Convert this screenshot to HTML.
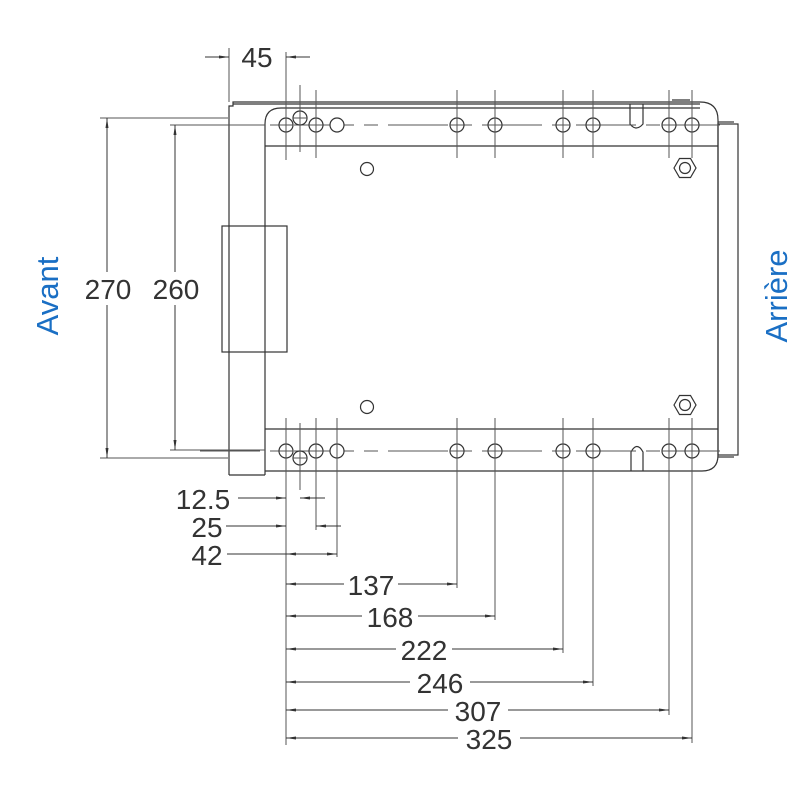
<!DOCTYPE html>
<html><head><meta charset="utf-8"><style>html,body{margin:0;padding:0;background:#fff}svg{display:block}</style></head>
<body>
<svg width="800" height="800" viewBox="0 0 800 800" xmlns="http://www.w3.org/2000/svg">
<defs>
<marker id="a" markerWidth="10" markerHeight="6" refX="10" refY="3" orient="auto" markerUnits="userSpaceOnUse"><path d="M0,1.5 L10,3 L0,4.5z" fill="#333"/></marker>
<marker id="b" markerWidth="10" markerHeight="6" refX="0" refY="3" orient="auto" markerUnits="userSpaceOnUse"><path d="M10,1.5 L0,3 L10,4.5z" fill="#333"/></marker>
</defs>
<g fill="none" stroke="#333" stroke-width="1.2">
<path d="M229,475 V106 H233 V102 H700 Q718,102 718,120 V455 Q718,471 702,471 H265"/>
<path d="M229,475 H265"/>
<path d="M233,104 H700"/>
<path d="M265,475 V124 Q265,108 281,108 H700"/>
<line x1="265" y1="146" x2="718" y2="146"/>
<line x1="265" y1="429" x2="718" y2="429"/>
<rect x="222" y="226" width="65" height="126"/>
<rect x="718" y="124" width="20" height="331"/>
<line x1="718" y1="122" x2="734" y2="122"/>
<line x1="718" y1="457" x2="734" y2="457"/>
<path d="M630,104 V124 Q636,132 643,124 V104"/>
<path d="M631,471 V452 Q637,441 643,452 V471"/>
<line x1="672" y1="100" x2="690" y2="100"/>
<polygon points="674,168 679.5,158.5 690.5,158.5 696,168 690.5,177.5 679.5,177.5"/>
<circle cx="685" cy="168" r="5.5"/>
<polygon points="674,405 679.5,395.5 690.5,395.5 696,405 690.5,414.5 679.5,414.5"/>
<circle cx="685" cy="405" r="5.5"/>
<circle cx="367" cy="169" r="6.5"/>
<circle cx="367" cy="407" r="6.5"/>
</g>
<g stroke="#555" stroke-width="1" fill="none">
<line x1="200" y1="125" x2="720" y2="125" stroke-dasharray="60,10,14,10"/>
<line x1="200" y1="451" x2="720" y2="451" stroke-dasharray="60,10,14,10"/>
<line x1="100" y1="118" x2="228" y2="118"/>
<line x1="100" y1="458" x2="228" y2="458"/>
<line x1="170" y1="125" x2="265" y2="125"/>
<line x1="170" y1="450" x2="265" y2="450"/>
</g>
<g fill="#fff" stroke="#333" stroke-width="1.2">
<circle cx="286" cy="125" r="7"/><circle cx="300" cy="118" r="7"/><circle cx="316" cy="125" r="7"/><circle cx="337" cy="125" r="7"/>
<circle cx="457" cy="125" r="7"/><circle cx="495" cy="125" r="7"/><circle cx="563" cy="125" r="7"/><circle cx="593" cy="125" r="7"/><circle cx="669" cy="125" r="7"/><circle cx="692" cy="125" r="7"/>
<circle cx="286" cy="451" r="7"/><circle cx="300" cy="458" r="7"/><circle cx="316" cy="451" r="7"/><circle cx="337" cy="451" r="7"/>
<circle cx="457" cy="451" r="7"/><circle cx="495" cy="451" r="7"/><circle cx="563" cy="451" r="7"/><circle cx="593" cy="451" r="7"/><circle cx="669" cy="451" r="7"/><circle cx="692" cy="451" r="7"/>
</g>
<g stroke="#555" stroke-width="1">
<line x1="279" y1="125" x2="293" y2="125"/><line x1="293" y1="118" x2="307" y2="118"/><line x1="309" y1="125" x2="323" y2="125"/>
<line x1="279" y1="451" x2="293" y2="451"/><line x1="293" y1="458" x2="307" y2="458"/><line x1="309" y1="451" x2="323" y2="451"/>
<line x1="450" y1="125" x2="464" y2="125"/><line x1="488" y1="125" x2="502" y2="125"/><line x1="556" y1="125" x2="570" y2="125"/><line x1="586" y1="125" x2="600" y2="125"/><line x1="662" y1="125" x2="676" y2="125"/><line x1="685" y1="125" x2="699" y2="125"/>
<line x1="450" y1="451" x2="464" y2="451"/><line x1="488" y1="451" x2="502" y2="451"/><line x1="556" y1="451" x2="570" y2="451"/><line x1="586" y1="451" x2="600" y2="451"/><line x1="662" y1="451" x2="676" y2="451"/><line x1="685" y1="451" x2="699" y2="451"/>
<line x1="286" y1="52" x2="286" y2="160"/>
<line x1="300" y1="85" x2="300" y2="152"/>
<line x1="316" y1="90" x2="316" y2="158"/>
<line x1="457" y1="90" x2="457" y2="158"/><line x1="495" y1="90" x2="495" y2="158"/>
<line x1="563" y1="90" x2="563" y2="158"/><line x1="593" y1="90" x2="593" y2="158"/>
<line x1="669" y1="90" x2="669" y2="158"/><line x1="692" y1="90" x2="692" y2="158"/>
<line x1="229" y1="48" x2="229" y2="102"/>
<line x1="286" y1="418" x2="286" y2="745"/>
<line x1="300" y1="423" x2="300" y2="490"/>
<line x1="316" y1="418" x2="316" y2="530"/>
<line x1="337" y1="418" x2="337" y2="557"/>
<line x1="457" y1="418" x2="457" y2="588"/>
<line x1="495" y1="418" x2="495" y2="620"/>
<line x1="563" y1="418" x2="563" y2="653"/>
<line x1="593" y1="418" x2="593" y2="686"/>
<line x1="669" y1="418" x2="669" y2="715"/>
<line x1="692" y1="418" x2="692" y2="743"/>
</g>
<g stroke="#333" stroke-width="1" fill="none">
<line x1="205" y1="57" x2="229" y2="57" marker-end="url(#a)"/>
<line x1="310" y1="57" x2="286" y2="57" marker-end="url(#a)"/>
<line x1="107" y1="272" x2="107" y2="118" marker-end="url(#a)"/>
<line x1="107" y1="305" x2="107" y2="458" marker-end="url(#a)"/>
<line x1="175" y1="272" x2="175" y2="125" marker-end="url(#a)"/>
<line x1="175" y1="305" x2="175" y2="450" marker-end="url(#a)"/>
<line x1="238" y1="498" x2="286" y2="498" marker-end="url(#a)"/>
<line x1="325" y1="498" x2="300" y2="498" marker-end="url(#a)"/>
<line x1="226" y1="526" x2="286" y2="526" marker-end="url(#a)"/>
<line x1="341" y1="526" x2="316" y2="526" marker-end="url(#a)"/>
<line x1="227" y1="554" x2="286" y2="554"/>
<line x1="286" y1="554" x2="337" y2="554" marker-start="url(#b)" marker-end="url(#a)"/>
<line x1="286" y1="584" x2="344" y2="584" marker-start="url(#b)"/><line x1="398" y1="584" x2="457" y2="584" marker-end="url(#a)"/>
<line x1="286" y1="616" x2="362" y2="616" marker-start="url(#b)"/><line x1="418" y1="616" x2="495" y2="616" marker-end="url(#a)"/>
<line x1="286" y1="649" x2="396" y2="649" marker-start="url(#b)"/><line x1="452" y1="649" x2="563" y2="649" marker-end="url(#a)"/>
<line x1="286" y1="682" x2="410" y2="682" marker-start="url(#b)"/><line x1="470" y1="682" x2="593" y2="682" marker-end="url(#a)"/>
<line x1="286" y1="710" x2="448" y2="710" marker-start="url(#b)"/><line x1="508" y1="710" x2="669" y2="710" marker-end="url(#a)"/>
<line x1="286" y1="738" x2="458" y2="738" marker-start="url(#b)"/><line x1="520" y1="738" x2="692" y2="738" marker-end="url(#a)"/>
</g>
<g font-family="Liberation Sans, sans-serif" font-size="28" fill="#333" text-anchor="middle">
<text x="257" y="67">45</text>
<text x="108" y="299">270</text>
<text x="176" y="299">260</text>
<text x="203" y="509">12.5</text>
<text x="207" y="537">25</text>
<text x="207" y="565">42</text>
<text x="371" y="595">137</text>
<text x="390" y="627">168</text>
<text x="424" y="660">222</text>
<text x="440" y="693">246</text>
<text x="478" y="721">307</text>
<text x="489" y="749">325</text>
</g>
<g font-family="Liberation Sans, sans-serif" font-size="31" fill="#1a6fc4" text-anchor="middle">
<text transform="translate(58,296) rotate(-90)">Avant</text>
<text transform="translate(787,296) rotate(-90)">Arrière</text>
</g>
</svg>
</body></html>
